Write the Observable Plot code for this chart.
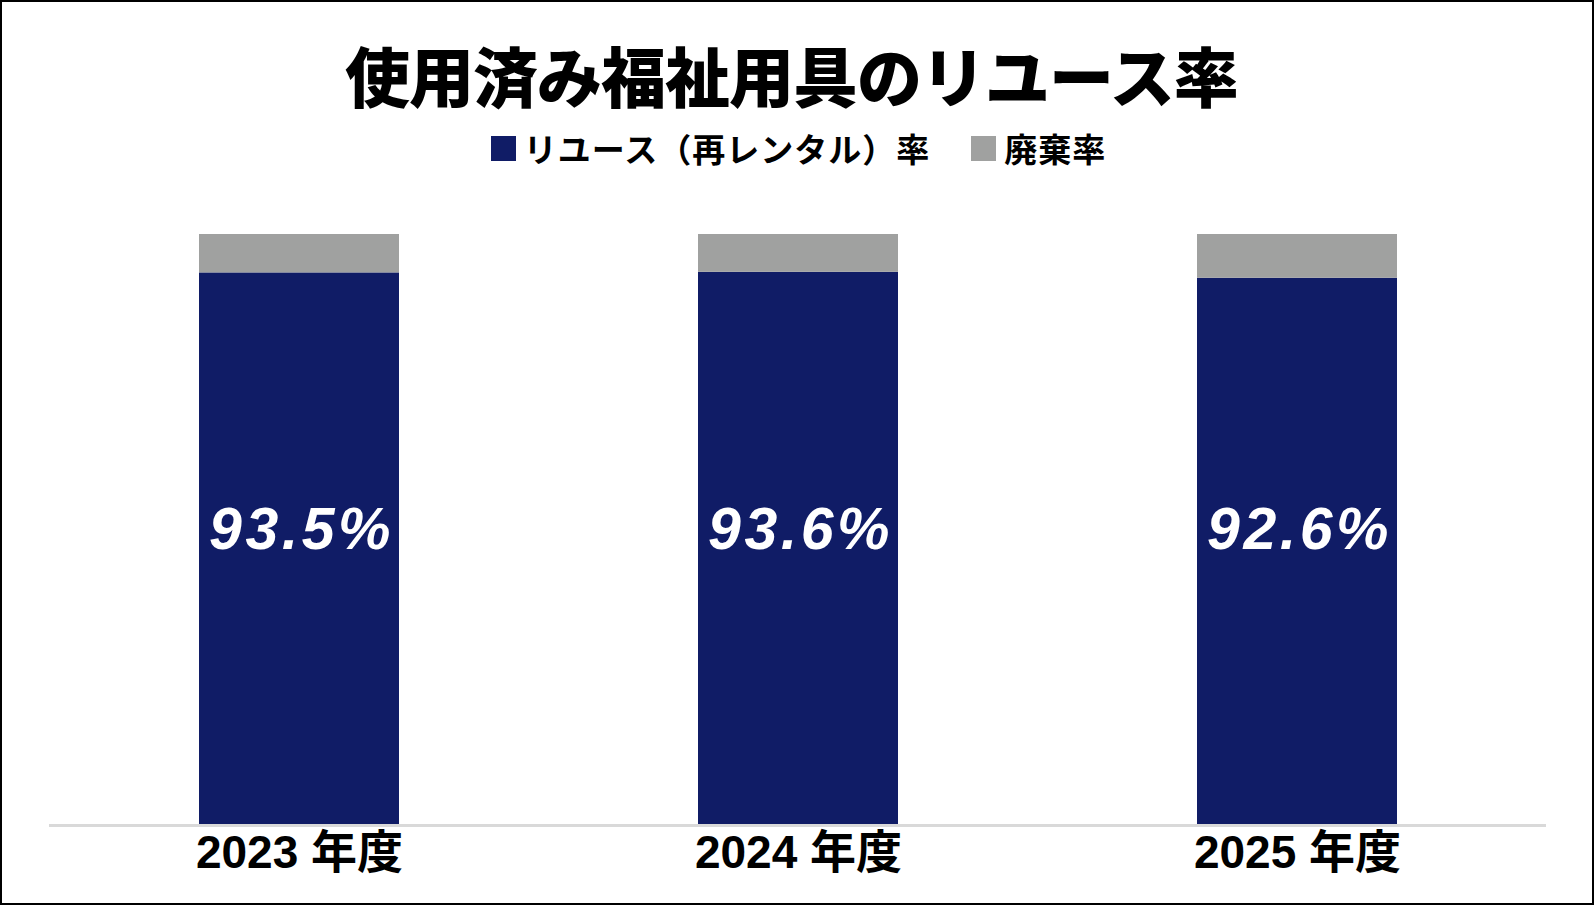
<!DOCTYPE html>
<html lang="ja">
<head>
<meta charset="utf-8">
<script src="https://cdn.jsdelivr.net/npm/d3@7"></script>
<script src="https://cdn.jsdelivr.net/npm/@observablehq/plot@0.6"></script>
<style>
  html, body { margin: 0; padding: 0; background: #fff; }
  #wrap { position: relative; width: 1595px; height: 912px; overflow: hidden; }
  #frame { position: absolute; left: 0; top: 0; width: 1594px; height: 905px; border: 2px solid #000; box-sizing: border-box; pointer-events: none; }
  #title { margin: 0; padding: 28px 12px 0 0; height: 94px; line-height: 92px; text-align: center;
    font-family: "Noto Sans CJK JP", sans-serif; font-weight: 900; font-size: 65px; letter-spacing: -1px; color: #000; }
  #legend { height: 52px; display: flex; justify-content: center; align-items: center; padding-left: 2px;
    font-family: "Noto Sans CJK JP", sans-serif; font-weight: 700; font-size: 33px; letter-spacing: 1px; color: #000; }
  .item { display: flex; align-items: center; }
  .sw { width: 25px; height: 25px; margin-right: 8px; }
  .item + .item { margin-left: 41px; }
  #chart svg { display: block; }
</style>
</head>
<body>
<div id="wrap">
  <div id="title"></div>
  <div id="legend"></div>
  <div id="chart"></div>
  <div id="frame"></div>
</div>
<script>
const titleText = "使用済み福祉用具のリユース率";
const years = ["2023 年度", "2024 年度", "2025 年度"];
const seriesNames = ["リユース（再レンタル）率", "廃棄率"];
const seriesColors = ["#101c66", "#a0a1a0"];
const reuseRates = [93.5, 93.6, 92.6];
const wasteRates = [6.5, 6.4, 7.4];

document.getElementById("title").textContent = titleText;

const legend = document.getElementById("legend");
seriesNames.forEach((name, i) => {
  const item = document.createElement("div");
  item.className = "item";
  const sw = document.createElement("span");
  sw.className = "sw";
  sw.style.background = seriesColors[i];
  const label = document.createElement("span");
  label.textContent = name;
  item.appendChild(sw);
  item.appendChild(label);
  legend.appendChild(item);
});

const data = [];
years.forEach((y, i) => {
  data.push({year: y, series: seriesNames[0], value: reuseRates[i]});
  data.push({year: y, series: seriesNames[1], value: wasteRates[i]});
});
const reuseData = years.map((y, i) => ({year: y, value: reuseRates[i]}));

const chart = Plot.plot({
  width: 1595,
  height: 716,
  marginLeft: 49,
  marginRight: 49,
  marginTop: 60,
  marginBottom: 65,
  style: {background: "transparent", fontFamily: "'Liberation Sans', 'Noto Sans CJK JP', sans-serif", color: "#000", overflow: "visible"},
  x: {domain: years, paddingInner: 0.6, paddingOuter: 0.3, label: null, axis: null},
  y: {domain: [0, 100], axis: null},
  color: {domain: seriesNames, range: seriesColors},
  marks: [
    Plot.barY(data, {x: "year", y: "value", fill: "series"}),
    Plot.ruleY([0], {stroke: "#d9d9d9", strokeWidth: 3}),
    Plot.text(reuseData, {x: "year", frameAnchor: "middle", text: d => d.value.toFixed(1) + "%",
      fill: "#fff", fontSize: 59, fontWeight: "bold", fontStyle: "italic"}),
    Plot.axisX({tickSize: 0, tickPadding: 10, fontSize: 46, fontWeight: "bold", fill: "#000", label: null})
  ]
});
document.getElementById("chart").appendChild(chart);

chart.querySelectorAll("text").forEach(t => {
  if (t.textContent.includes("%")) {
    t.setAttribute("letter-spacing", "3.5");
    t.setAttribute("dx", "2");
  }
});
</script>
</body>
</html>
